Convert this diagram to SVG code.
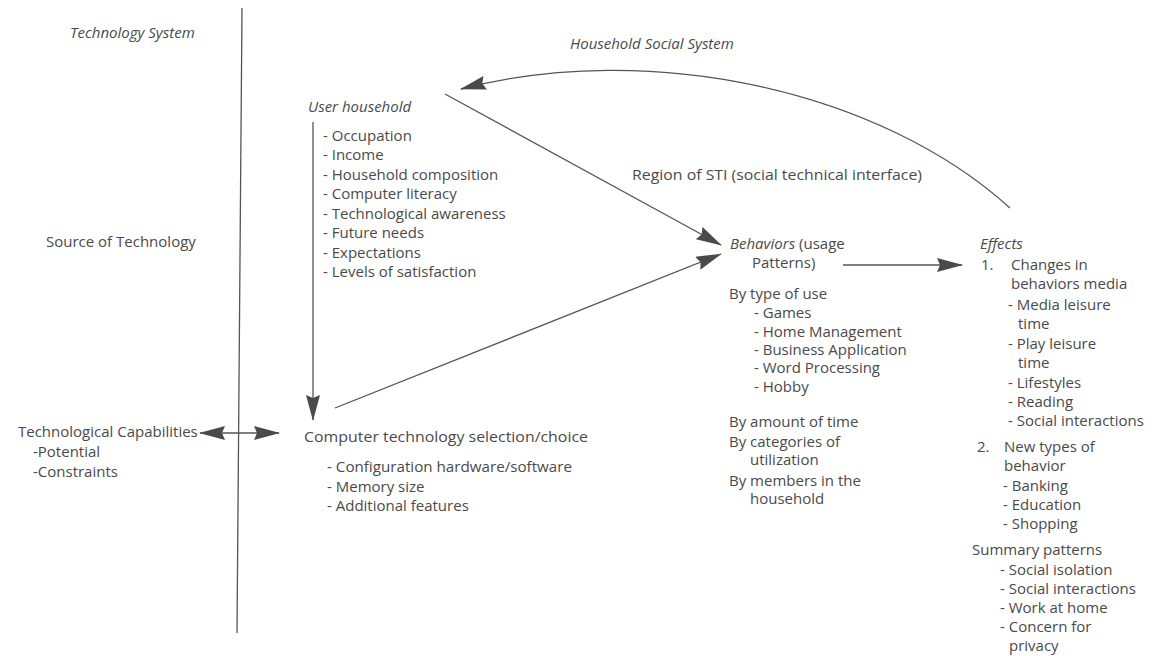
<svg xmlns="http://www.w3.org/2000/svg" width="1152" height="656" viewBox="0 0 1152 656">
<style>
text{font-family:"Open Sans","Liberation Sans",Arial,sans-serif;font-size:15px;fill:#4a4a4a}
.i{font-style:italic}
.ln{stroke:#555;stroke-width:1.3;fill:none}
</style>
<defs>
<marker id="ah" viewBox="0 0 26 14" refX="25" refY="7" markerWidth="26" markerHeight="14" markerUnits="userSpaceOnUse" orient="auto-start-reverse">
<path d="M0,0 L26,7 L0,14 L3,7 Z" fill="#4a4a4a"/>
</marker>
</defs>
<rect width="1152" height="656" fill="#fff"/>
<g id="divider"><line class="ln" x1="242" y1="8" x2="237" y2="633"/></g>
<g id="labels">
<text class="i" x="70" y="38">Technology System</text>
<text x="46" y="247">Source of Technology</text>
<text class="i" x="570" y="49">Household Social System</text>
<text x="632" y="180" textLength="290" lengthAdjust="spacingAndGlyphs">Region of STI (social technical interface)</text>
</g>
<g id="tech-capabilities">
<text x="18" y="437">Technological Capabilities</text>
<text x="33" y="457">-Potential</text>
<text x="33" y="477">-Constraints</text>
</g>
<g id="user-household">
<text class="i" x="308" y="112">User household</text>
<text x="323" y="141">- Occupation</text>
<text x="323" y="160">- Income</text>
<text x="323" y="180">- Household composition</text>
<text x="323" y="199">- Computer literacy</text>
<text x="323" y="219">- Technological awareness</text>
<text x="323" y="238">- Future needs</text>
<text x="323" y="258">- Expectations</text>
<text x="323" y="277">- Levels of satisfaction</text>
</g>
<g id="computer-selection">
<text x="304" y="442" textLength="284" lengthAdjust="spacingAndGlyphs">Computer technology selection/choice</text>
<text x="327" y="472" textLength="245" lengthAdjust="spacingAndGlyphs">- Configuration hardware/software</text>
<text x="327" y="492">- Memory size</text>
<text x="327" y="511">- Additional features</text>
</g>
<g id="behaviors">
<text x="730" y="249"><tspan class="i">Behaviors</tspan> (usage</text>
<text x="752" y="268">Patterns)</text>
<text x="729" y="299">By type of use</text>
<text x="754" y="318">- Games</text>
<text x="754" y="337">- Home Management</text>
<text x="754" y="355">- Business Application</text>
<text x="754" y="373">- Word Processing</text>
<text x="754" y="392">- Hobby</text>
<text x="729" y="427">By amount of time</text>
<text x="729" y="447">By categories of</text>
<text x="750" y="465">utilization</text>
<text x="729" y="486">By members in the</text>
<text x="750" y="504">household</text>
</g>
<g id="effects">
<text class="i" x="980" y="249">Effects</text>
<text x="981" y="270">1.</text>
<text x="1011" y="270">Changes in</text>
<text x="1011" y="289">behaviors media</text>
<text x="1008" y="310">- Media leisure</text>
<text x="1018" y="329">time</text>
<text x="1008" y="349">- Play leisure</text>
<text x="1018" y="368">time</text>
<text x="1008" y="388">- Lifestyles</text>
<text x="1008" y="407">- Reading</text>
<text x="1008" y="426">- Social interactions</text>
<text x="977" y="452">2.</text>
<text x="1004" y="452">New types of</text>
<text x="1004" y="471">behavior</text>
<text x="1003" y="491">- Banking</text>
<text x="1003" y="510">- Education</text>
<text x="1003" y="529">- Shopping</text>
<text x="972" y="555">Summary patterns</text>
<text x="1000" y="575">- Social isolation</text>
<text x="1000" y="594">- Social interactions</text>
<text x="1000" y="613">- Work at home</text>
<text x="1000" y="632">- Concern for</text>
<text x="1009" y="651">privacy</text>
</g>
<g id="connectors">
<line class="ln" x1="200" y1="433" x2="279" y2="433" marker-start="url(#ah)" marker-end="url(#ah)"/>
<line class="ln" x1="313" y1="122" x2="313" y2="420" marker-end="url(#ah)"/>
<line class="ln" x1="335" y1="408" x2="721" y2="254" marker-end="url(#ah)"/>
<line class="ln" x1="445" y1="94" x2="721" y2="245" marker-end="url(#ah)"/>
<line class="ln" x1="843" y1="265" x2="962" y2="265" marker-end="url(#ah)"/>
<path class="ln" d="M1010,208 C880,90 650,40 461,89" marker-end="url(#ah)"/>
</g>
</svg>
